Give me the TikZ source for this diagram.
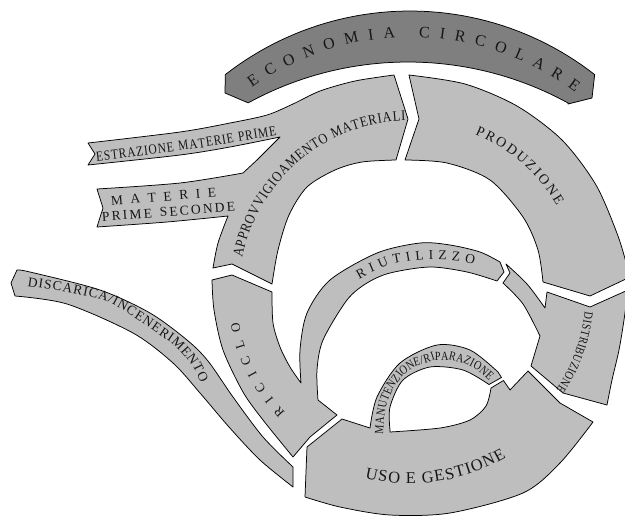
\documentclass[tikz,border=0pt]{standalone}
\usepackage{fontspec}
\setmainfont{Liberation Serif}
\newfontfamily\condf{Liberation Serif}[FakeStretch=0.82]
\newfontfamily\semif{Liberation Serif}[FakeStretch=0.86]
\usetikzlibrary{decorations.text}
\definecolor{segfill}{HTML}{BEBEBE}
\definecolor{econfill}{HTML}{7F7F7F}
\definecolor{txt}{HTML}{161616}
\tikzset{
  seg/.style={fill=segfill, draw=black, line width=0.75pt, line join=round},
  econband/.style={fill=econfill, draw=black, line width=0.75pt, line join=round},
  arctext/.style 2 args={decorate, decoration={text along path, text align={fit to path}, text color=txt, raise=#1, text={#2}}},
}
\begin{document}
\begin{tikzpicture}[x=1pt,y=-1pt]
\useasboundingbox (0,0) rectangle (625,517);
\clip (0,0) rectangle (625,517);

% ECONOMIA CIRCOLARE band
\path[econband] plot[domain=-128:-52, samples=50] ({410+300*cos(\x)},{311+300*sin(\x)})
  -- (592,98) -- (568,104)
  -- plot[domain=0:1, samples=50] ({408+333*cos(-61.2-57.5*\x)},{395+333*sin(-61.2-57.5*\x)})
  -- (225,93) -- cycle;

% Approvvigionamento (with the two incoming bands)
\path[seg] (213,268)
 -- plot[smooth] coordinates {(213,268) (218,243) (228,216)}
 -- plot[smooth] coordinates {(228,216) (167,222) (97,227)}
 -- (103,208) -- (97,189)
 -- plot[smooth] coordinates {(97,189) (180,183) (243,173)}
 -- (257,160) -- (280,137)
 -- plot[smooth] coordinates {(280,137) (230,147) (180,155) (88,165)}
 -- (95,154) -- (88,143)
 -- plot[smooth] coordinates {(88,143) (180,132) (230,123) (267,115) (293,104) (320,91) (355,81) (394,75)}
 -- (408,119) -- (396,160)
 -- plot[smooth] coordinates {(396,160) (362,162) (335,170) (307,187) (289,215) (278,250) (272,284)}
 -- (232,264) -- cycle;

% Produzione
\path[seg] (409,75) -- (419,119) -- (405,160)
 -- plot[smooth] coordinates {(405,160) (447,163) (490,180) (523,217) (538,250) (543,282)}
 -- (590,296) -- (628,278) -- (628,270)
 -- plot[smooth] coordinates {(628,270) (618,236) (596,185) (562,140) (517,106) (465,84) (409,75)}
 -- cycle;

% Distribuzione (with stub of inner ring)
\path[seg] (506,264)
 -- plot[smooth] coordinates {(506,264) (527,284) (545,308)}
 -- (547,292) -- (590,307) -- (628,290)
 -- plot[smooth] coordinates {(628,290) (624,320) (619,350) (612,380) (607,405)}
 -- (563,393) -- (531,366) -- (540,336)
 -- plot[smooth] coordinates {(540,336) (523,304) (503,283)}
 -- (510,273) -- cycle;

% Uso e gestione with manutenzione band
\path[seg] (305,497) -- (307,447) -- (342,419) -- (370,428)
 -- plot[smooth] coordinates {(370,428) (377,397) (400,363) (437,345) (470,350) (498,372)}
 -- (501.5,377.5) -- (489,384.5)
 -- plot[smooth] coordinates {(489,384.5) (463,370) (430,367) (403,380) (390,407) (390,430)}
 -- plot[smooth] coordinates {(390,432) (440,428) (470,420) (486,406) (491,388)}
 -- (503.5,380.5) -- (510,390) -- (528,371) -- (560,403) -- (593,422)
 -- plot[smooth] coordinates {(593,422) (560,463) (523,493) (450,513) (390,515) (340,507) (305,497)}
 -- cycle;

% Riciclo with riutilizzo band
\path[seg] (212,280) -- (232,275) -- (272,292)
 -- plot[smooth] coordinates {(272,292) (273,323) (280,347) (290,367) (301,383)}
 -- plot[smooth] coordinates {(301,383) (300,350) (307,313) (330,280) (377,253) (420,243) (450,245) (480,252) (500,262)}
 -- (504,272) -- (497,281)
 -- plot[smooth] coordinates {(497,281) (467,272) (430,267) (390,273) (367,283) (347,300) (323,340) (317,370) (318,400)}
 -- (337,415) -- (310,437) -- (293,457)
 -- plot[smooth] coordinates {(293,457) (263,420) (243,392) (223,350) (214,310) (212,280)}
 -- cycle;

% Discarica band
\path[seg] (17,270)
 -- plot[smooth] coordinates {(17,270) (30,272) (100,290) (150,313) (187,340) (208,361) (233,397) (263,437) (293,467)}
 -- (293,487)
 -- plot[smooth] coordinates {(293,487) (260,460) (229,427) (200,393) (173,363) (133,333) (67,304) (15,296)}
 -- (11,283) -- cycle;

% ---------- texts ----------
\path[arctext={-5.3pt}{|\fontsize{16}{18}\selectfont|ECONOMIA CIRCOLARE}]
  plot[domain=-125.3:-52.9, samples=60] ({410+279*cos(\x)},{311+279*sin(\x)});

\path[arctext={-4.7pt}{|\semif\fontsize{14.5}{16}\selectfont|APPROVVIGIOAMENTO MATERIALI}]
  plot[domain=-168.5:-91.5, samples=60] ({410+176*cos(\x)},{292+176*sin(\x)});

\path[arctext={-4.5pt}{|\fontsize{14}{16}\selectfont|PRODUZIONE}]
  plot[domain=-67.5:-30.5, samples=40] ({410+175*cos(\x)},{292+175*sin(\x)});

\path[arctext={-4.1pt}{|\condf\fontsize{12.5}{14}\selectfont|DISTRIBUZIONE}]
  plot[domain=6.5:33.7, samples=30] ({410+180*cos(\x)},{292+180*sin(\x)});

\path[arctext={-5.4pt}{|\fontsize{16.5}{18}\selectfont|USO E GESTIONE}]
  plot[domain=0:1, samples=40] ({410+186*cos(103.7-43.9*\x)},{292+186*sin(103.7-43.9*\x)});

\path[arctext={-4.3pt}{|\fontsize{13}{15}\selectfont|RICICLO}]
  plot[domain=136:170, samples=30] ({410+178*cos(\x)},{292+178*sin(\x)});

\path[arctext={-4.4pt}{|\fontsize{13.5}{15}\selectfont|RIUTILIZZO}]
  plot coordinates {(357,275.5) (370,268.5) (383,263) (396,259) (410,256.5) (422,255.3) (433,255) (445,255.4) (457,256.5) (466,257.8) (475,259.5)};

\path[arctext={-4.6pt}{|\condf\fontsize{14}{16}\selectfont|ESTRAZIONE MATERIE PRIME}]
  plot coordinates {(96,157) (118,154.5) (140,151.5) (164,148.5) (188,145) (213,141.2) (237,137) (257,133.8) (276,130.5)};

\path[arctext={-4.5pt}{|\fontsize{13.5}{15}\selectfont|MATERIE}]
  (111,201) -- (216,192.5);

\path[arctext={-4.5pt}{|\fontsize{13.5}{15}\selectfont|PRIME SECONDE}]
  (102,217) -- (235,206.5);

\path[arctext={-4.4pt}{|\fontsize{13.5}{15}\selectfont|DISCARICA/INCENERIMENTO}]
  plot coordinates {(28,282) (55,286) (78,290) (95,293.5) (110,298) (125,306) (138,315) (151,323.5) (163,332) (174,339.5) (183,348) (191,357) (198,367) (205,381)};

\path[arctext={-4.1pt}{|\condf\fontsize{12.5}{14}\selectfont|MANUTENZIONE/RIPARAZIONE}]
  plot coordinates {(379,434) (380,418) (383,402) (390,386) (401,371.5) (416,361.5) (433.5,356) (450,356) (466.5,360) (480,367) (492,378)};

\end{tikzpicture}
\end{document}
